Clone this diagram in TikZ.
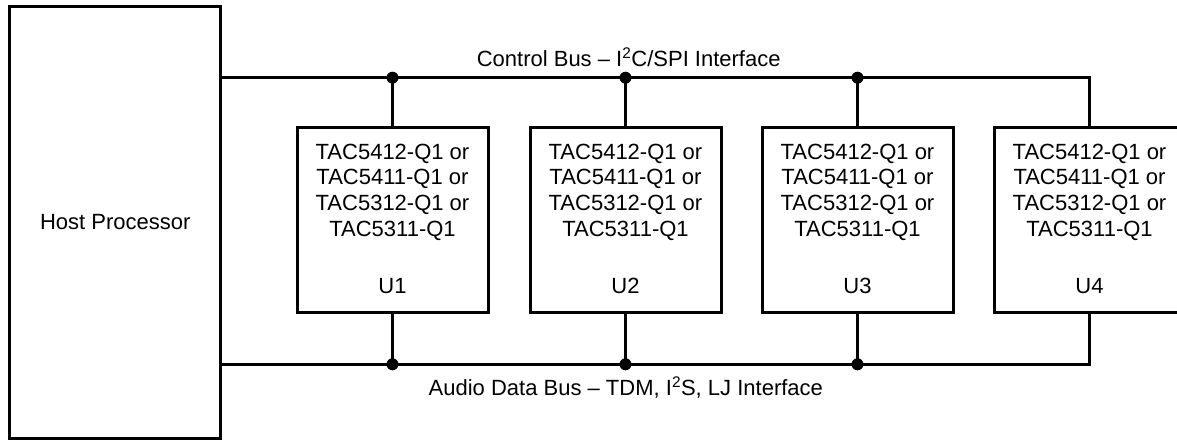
\documentclass[tikz,border=0pt]{standalone}
\usepackage{fontspec}
\setmainfont{Liberation Sans}
\begin{document}
\begin{tikzpicture}[x=1pt,y=-1pt,
  wire/.style={line width=3pt},
  box/.style={draw, line width=3pt, minimum width=191pt, minimum height=185pt, inner sep=0pt,
    font=\fontsize{22}{25.6}\selectfont},
  lbl/.style={font=\fontsize{22}{25.6}\selectfont, inner sep=0pt, align=center, anchor=base},
  jdot/.style={circle, fill, inner sep=0pt, minimum size=12pt}]
\useasboundingbox (0,0) rectangle (1177,439);
\clip (0,0) rectangle (1177,439);
\node[box, minimum width=210.7pt, minimum height=432pt] (host) at (115.3,222) {Host Processor};
\foreach \i/\x in {1/392.5,2/625.5,3/857.5,4/1089.5}{
  \node[box] (u\i) at (\x,219.5) {};
  \node[lbl] (u\i t) at (\x,236.1) {TAC5412-Q1 or\\TAC5411-Q1 or\\TAC5312-Q1 or\\TAC5311-Q1};
  \node[lbl] (u\i l) at (\x,293) {U\i};
}
% control bus
\coordinate (ct0) at (host.east |- 0,77.7);
\coordinate (ct4) at (u4.north |- 0,77.7);
\draw[wire] (ct0) -- (ct4) -- (u4.north);
% audio bus
\coordinate (ab0) at (host.east |- 0,364.3);
\coordinate (ab4) at (u4.south |- 0,364.3);
\draw[wire] (ab0) -- (ab4) -- (u4.south);
\foreach \i in {1,2,3}{
  \node[jdot] (ct\i) at (u\i.north |- ct0) {};
  \node[jdot] (ab\i) at (u\i.south |- ab0) {};
  \draw[wire] (ct\i.center) -- (u\i.north);
  \draw[wire] (ab\i.center) -- (u\i.south);
}
\node[lbl] (ctl) at (628.7,66) {Control Bus -- I\textsuperscript{2}C/SPI Interface};
\node[lbl] (adl) at (625.8,395) {Audio Data Bus -- TDM, I\textsuperscript{2}S, LJ Interface};
\end{tikzpicture}
\end{document}
